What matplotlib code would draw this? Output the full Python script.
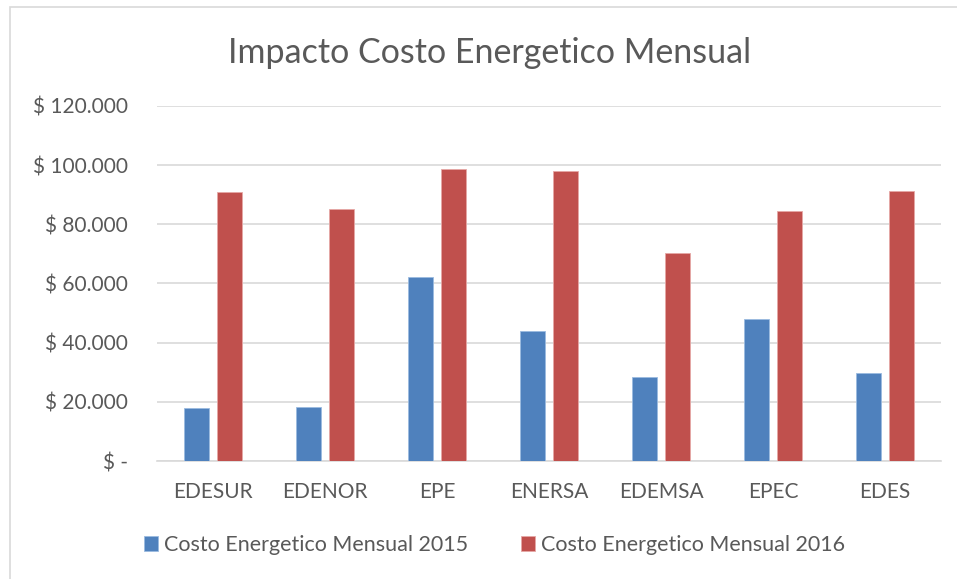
import numpy as np
import matplotlib.pyplot as plt
from matplotlib.patches import Rectangle

# Data
empresas = ["EDESUR", "EDENOR", "EPE", "ENERSA", "EDEMSA", "EPEC", "EDES"]
costo_2015 = [17900, 18400, 62100, 44000, 28400, 48100, 29600]
costo_2016 = [90900, 85200, 98700, 97900, 70400, 84600, 91200]
y_ticks = [0, 20000, 40000, 60000, 80000, 100000, 120000]
y_labels = ["$ -", "$ 20.000", "$ 40.000", "$ 60.000", "$ 80.000", "$ 100.000", "$ 120.000"]

plt.rcParams["font.family"] = ["Lato", "DejaVu Sans"]
text_color = "#595959"

fig = plt.figure(figsize=(9.57, 5.79), dpi=100)
ax = fig.add_axes([157 / 957, 1 - 461 / 579, 784 / 957, 355 / 579])

# Outer chart border (top and left visible)
fig.add_artist(Rectangle((9.5 / 957, -0.1), 1.2, 1 - 7 / 579 + 0.1,
                         transform=fig.transFigure, fill=False,
                         edgecolor="#d9d9d9", linewidth=1.2))

x = np.arange(len(empresas))
w = 0.223
ax.bar(x - 0.143, costo_2015, w, color="#4f81bd", edgecolor="#9bbbe0",
       linewidth=0.6, label="Costo Energetico Mensual 2015", zorder=3)
ax.bar(x + 0.143, costo_2016, w, color="#c0504d", edgecolor="#e6a8a6",
       linewidth=0.6, label="Costo Energetico Mensual 2016", zorder=3)

ax.set_xlim(-0.5, len(empresas) - 0.5)
ax.set_ylim(0, 120000)
ax.set_yticks(y_ticks)
ax.set_yticklabels(y_labels)
ax.set_xticks(x)
ax.set_xticklabels(empresas)
ax.tick_params(axis="y", length=0, pad=21, labelsize=15, colors=text_color)
ax.tick_params(axis="x", length=0, pad=15, labelsize=15, colors=text_color)
ax.grid(axis="y", color="#d9d9d9", linewidth=1.2, zorder=0)
for s in ["top", "right", "left"]:
    ax.spines[s].set_visible(False)
ax.spines["bottom"].set_color("#d9d9d9")
ax.spines["bottom"].set_linewidth(1.2)

fig.text(490 / 957, 1 - 53 / 579, "Impacto Costo Energetico Mensual",
         ha="center", va="center", fontsize=24.5, color=text_color)

leg = fig.legend(loc="center", bbox_to_anchor=(494.5 / 957, 1 - 545 / 579),
                 ncol=2, frameon=False, fontsize=15.5, handlelength=0.65,
                 handleheight=0.65, handletextpad=0.25, columnspacing=2.5)
for t in leg.get_texts():
    t.set_color(text_color)

fig.savefig("out.png", dpi=100)
